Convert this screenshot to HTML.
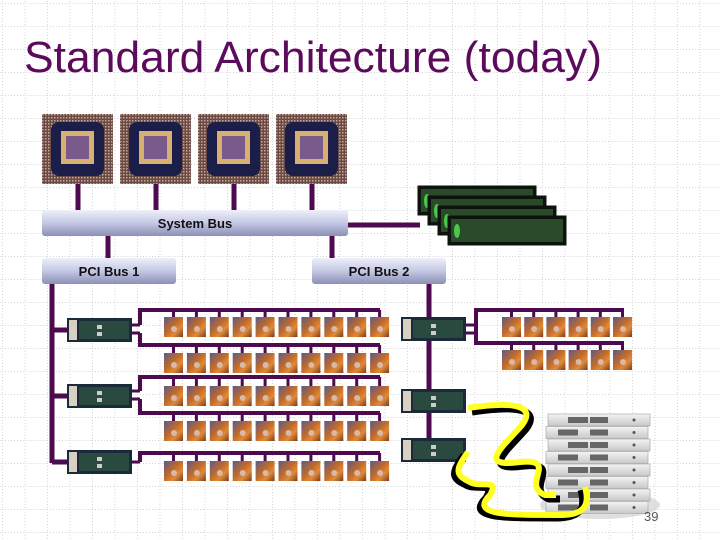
<!DOCTYPE html>
<html><head><meta charset="utf-8"><style>
html,body{margin:0;padding:0;background:#fff}
svg{display:block}
</style></head><body>
<svg id="s" width="720" height="540" viewBox="0 0 720 540" xmlns="http://www.w3.org/2000/svg">
<defs>
<pattern id="grid" width="22.5" height="23" patternUnits="userSpaceOnUse" x="2" y="3">
<path d="M0 0.5H22.5M0.5 0V23" stroke="#d4d4d4" stroke-width="1" stroke-dasharray="1,2" fill="none"/>
</pattern>
<linearGradient id="bus" x1="0" y1="0" x2="0" y2="1">
<stop offset="0" stop-color="#eef0fa"/><stop offset="0.5" stop-color="#c4c8e4"/><stop offset="1" stop-color="#8c90b4"/>
</linearGradient>
<pattern id="pins" width="3" height="3" patternUnits="userSpaceOnUse">
<rect width="3" height="3" fill="#6a4a44"/><rect width="1.5" height="1.5" fill="#c8a89a"/>
</pattern>
<linearGradient id="disk" x1="0" y1="0" x2="1" y2="1">
<stop offset="0" stop-color="#5a5a8a"/><stop offset="0.45" stop-color="#c06a2a"/><stop offset="0.7" stop-color="#e08a3a"/><stop offset="1" stop-color="#7a3a1a"/>
</linearGradient>
<linearGradient id="sw" x1="0" y1="0" x2="0" y2="1">
<stop offset="0" stop-color="#f4f4f4"/><stop offset="1" stop-color="#c8c8c8"/>
</linearGradient>
</defs>
<rect width="720" height="540" fill="url(#grid)"/>
<text x="24" y="72" font-family="Liberation Sans, sans-serif" font-size="44" fill="#5c0a5c" textLength="578" lengthAdjust="spacingAndGlyphs">Standard Architecture (today)</text>
<g id="g"></g>
<text x="644" y="521" font-family="Liberation Sans, sans-serif" font-size="13" fill="#555">39</text>
</svg>
<script>
var g=document.getElementById('g'),h='';
var P='#4e0a4e';
function L(x1,y1,x2,y2,w){h+='<line x1="'+x1+'" y1="'+y1+'" x2="'+x2+'" y2="'+y2+'" stroke="'+P+'" stroke-width="'+(w||4)+'"/>';}
// CPUs
[42,120,198,276].forEach(function(x){
 h+='<rect x="'+x+'" y="114" width="71" height="70" fill="url(#pins)"/>';
 h+='<rect x="'+(x+9)+'" y="122" width="53" height="54" rx="8" fill="#1c1e4a"/>';
 h+='<rect x="'+(x+19)+'" y="131" width="33" height="33" fill="#d8b070"/>';
 h+='<rect x="'+(x+24)+'" y="136" width="23" height="23" fill="#7a5a8a"/>';
 L(x+36,184,x+36,210,5);
});
// memory
L(348,225,420,225,5);
[[418,186],[428,196],[438,206],[448,216]].forEach(function(p){
 h+='<rect x="'+p[0]+'" y="'+p[1]+'" width="118" height="29" fill="#0c140c" stroke="#111"/>';
 h+='<rect x="'+(p[0]+3)+'" y="'+(p[1]+3)+'" width="112" height="23" fill="#2a4a2a"/>';
 h+='<ellipse cx="'+(p[0]+9)+'" cy="'+(p[1]+15)+'" rx="3" ry="7" fill="#4ac84a"/>';
});
// bus connectors
L(108,236,108,258,5);L(332,236,332,258,5);
function bus(x,y,w,t){
 h+='<rect x="'+x+'" y="'+y+'" width="'+w+'" height="26" rx="3" fill="url(#bus)"/>';
 h+='<text x="'+(x+w/2)+'" y="'+(y+18)+'" text-anchor="middle" font-family="Liberation Sans, sans-serif" font-weight="bold" font-size="13" fill="#111">'+t+'</text>';
}
bus(42,210,306,'System Bus');bus(42,258,134,'PCI Bus 1');bus(312,258,134,'PCI Bus 2');
function card(x,y){
 h+='<rect x="'+x+'" y="'+y+'" width="65" height="24" fill="#1a2a3a"/>';
 h+='<rect x="'+(x+2)+'" y="'+(y+2)+'" width="8" height="20" fill="#d8d0c0"/>';
 h+='<rect x="'+(x+12)+'" y="'+(y+3)+'" width="50" height="18" fill="#2a4a40"/>';
 h+='<rect x="'+(x+30)+'" y="'+(y+7)+'" width="5" height="4" fill="#ccc"/><rect x="'+(x+30)+'" y="'+(y+14)+'" width="5" height="4" fill="#ccc"/>';
}
function disk(x,y){
 h+='<rect x="'+x+'" y="'+y+'" width="19" height="20" fill="url(#disk)"/>';
 h+='<circle cx="'+(x+10)+'" cy="'+(y+12)+'" r="3" fill="#d8b8a8"/>';
}
function rail(x0,xEnd,y,xs,ty){
 L(x0,y,xEnd,y,4);
 xs.forEach(function(x){L(x+9.5,y,x+9.5,ty,3);});
}
// PCI1
L(52,284,52,463,5);
var cols=[];for(var i=0;i<10;i++)cols.push(164+i*22.9);
[[318,310,345],[384,377,413],[450,453,null]].forEach(function(c,k){
 var y=c[0];L(52,y+12,67,y+12,5);card(67,y);
 if(c[2]){L(132,y+7,140,y+7,3);L(132,y+15,140,y+15,3);L(140,c[1],140,y+7,4);L(140,y+15,140,c[2],4);}
 else{L(132,y+12,140,y+12,3);L(140,c[1],140,y+12,4);}
});
var rails=[[310,317],[345,353],[377,386],[413,421],[453,461]];
rails.forEach(function(r){rail(138,380,r[0],cols,r[1]);cols.forEach(function(x){disk(x,r[1]);});});
// PCI2
L(429,284,429,440,5);
card(401,317);card(401,389);card(401,438);
var c2=[];for(var i=0;i<6;i++)c2.push(502+i*22.2);
L(466,325,476,325,3);L(466,333,476,333,3);L(476,310,476,343,4);
rail(474,624,310,c2,317);rail(474,624,343,c2,350);
c2.forEach(function(x){disk(x,317);disk(x,350);});
// switch stack
h+='<ellipse cx="600" cy="505" rx="60" ry="14" fill="#ccc" opacity="0.6"/>';
for(var i=0;i<8;i++){var y=414+i*12.5;
 h+='<rect x="'+(548-(i%2)*2)+'" y="'+y+'" width="102" height="12" fill="url(#sw)" stroke="#aaa" stroke-width="0.7"/>';
 h+='<rect x="'+(568+(i%2)*-10)+'" y="'+(y+3)+'" width="20" height="6" fill="#666"/>';
 h+='<rect x="'+(590)+'" y="'+(y+3)+'" width="18" height="6" fill="#666"/>';
 h+='<circle cx="634" cy="'+(y+6)+'" r="1.5" fill="#555"/>';
}
// cables
var c1='M468 408 C520 400 535 408 522 425 C505 445 475 468 520 462 C560 458 520 485 545 495 L556 495';
var c2p='M468 452 C455 470 455 475 470 482 C480 488 500 478 490 495 C470 515 505 515 560 515 C585 515 590 505 585 487';
h+='<path d="'+c1+'" transform="translate(4,4)" fill="none" stroke="#000" stroke-width="7"/>';
h+='<path d="'+c2p+'" transform="translate(-4,3)" fill="none" stroke="#000" stroke-width="7"/>';
h+='<path d="'+c1+'" fill="none" stroke="#ffff22" stroke-width="6"/>';
h+='<path d="'+c2p+'" fill="none" stroke="#ffff22" stroke-width="6"/>';
g.innerHTML=h;
</script>
</body></html>
